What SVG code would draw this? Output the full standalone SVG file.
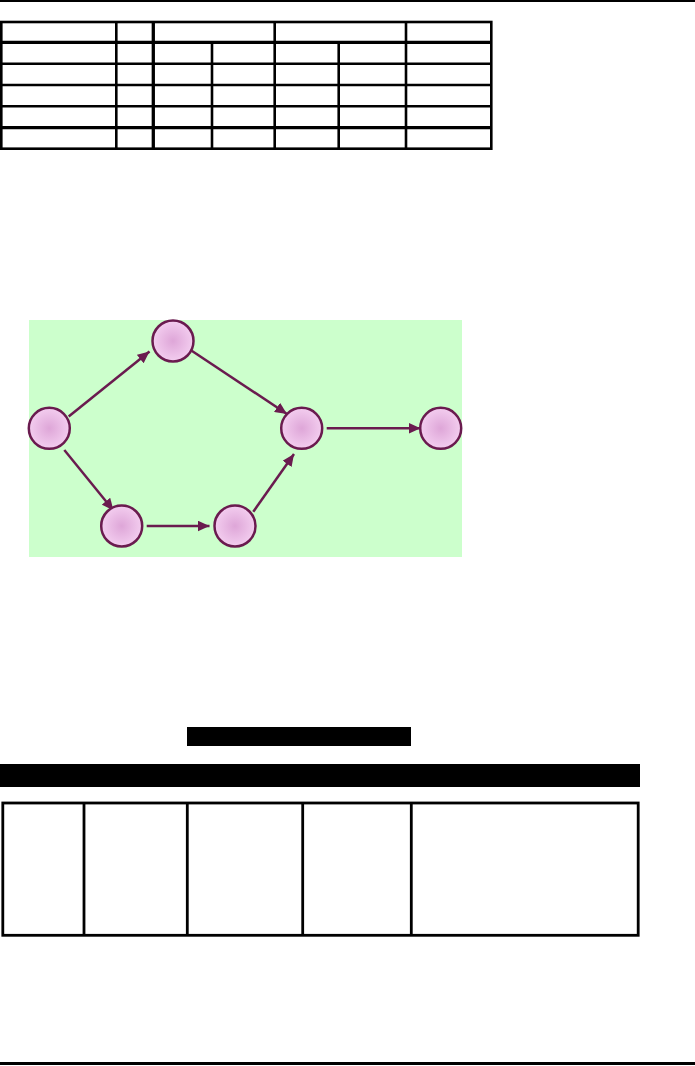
<svg xmlns="http://www.w3.org/2000/svg" width="695" height="1066" viewBox="0 0 695 1066">
<style>
.tl{stroke:#000;stroke-width:2.6;fill:none}
.tk{stroke:#000;stroke-width:3.3;fill:none}
.bt{stroke:#000;stroke-width:2.8;fill:none}
.node{fill:url(#ng);stroke:#6A1B4F;stroke-width:2.5}
.edge{stroke:#6A1B4F;stroke-width:2.5;fill:none;marker-end:url(#ah)}
</style>
<defs>
<radialGradient id="ng" cx="0.5" cy="0.5" r="0.5">
<stop offset="0" stop-color="#DEA6D8"/>
<stop offset="1" stop-color="#F3CDEF"/>
</radialGradient>
<marker id="ah" markerUnits="userSpaceOnUse" markerWidth="13" markerHeight="11" refX="12" refY="5.5" orient="auto">
<path d="M0,0 L12,5.5 L0,11 Z" fill="#6A1B4F"/>
</marker>
</defs>
<rect width="695" height="1066" fill="#fff"/>
<line x1="0" y1="1" x2="695" y2="1" stroke="#000" stroke-width="2"/>
<g id="top-table">
<rect class="tl" x="1.3" y="22" width="490" height="126.7"/>
<line class="tk" x1="0" y1="42.3" x2="492" y2="42.3"/>
<line class="tl" x1="0" y1="63.7" x2="492" y2="63.7"/>
<line class="tl" x1="0" y1="85" x2="492" y2="85"/>
<line class="tl" x1="0" y1="106.2" x2="492" y2="106.2"/>
<line class="tk" x1="0" y1="127.7" x2="492" y2="127.7"/>
<line class="tl" x1="116.3" y1="22" x2="116.3" y2="148.7"/>
<line class="tk" x1="153.3" y1="22" x2="153.3" y2="148.7"/>
<line class="tl" x1="274.7" y1="22" x2="274.7" y2="148.7"/>
<line class="tl" x1="406" y1="22" x2="406" y2="148.7"/>
<line class="tl" x1="212" y1="42.3" x2="212" y2="148.7"/>
<line class="tl" x1="338.7" y1="42.3" x2="338.7" y2="148.7"/>
</g>
<rect id="graph-bg" x="29" y="320" width="433" height="237" fill="#CCFFCC"/>
<g id="connectors">
<line class="edge" x1="68.7" y1="416.5" x2="149.5" y2="351.5"/>
<line class="edge" x1="191.7" y1="350.7" x2="287" y2="414"/>
<line class="edge" x1="326.7" y1="428.3" x2="420.5" y2="428.3"/>
<line class="edge" x1="64.3" y1="450" x2="113.5" y2="510.5"/>
<line class="edge" x1="146.7" y1="526" x2="209.5" y2="526"/>
<line class="edge" x1="253.3" y1="511.7" x2="294" y2="454"/>
</g>
<g id="n1"><circle class="node" cx="173" cy="341" r="20.5"/></g>
<g id="n2"><circle class="node" cx="49.3" cy="428.3" r="20.5"/></g>
<g id="n3"><circle class="node" cx="301.7" cy="428.3" r="20.5"/></g>
<g id="n4"><circle class="node" cx="440.7" cy="428.3" r="20.5"/></g>
<g id="n5"><circle class="node" cx="121.7" cy="526" r="20.5"/></g>
<g id="n6"><circle class="node" cx="235" cy="526" r="20.5"/></g>
<rect id="bar1" x="187" y="727" width="224" height="19" fill="#000"/>
<rect id="bar2" x="0" y="764" width="640" height="23" fill="#000"/>
<g id="bottom-table">
<rect class="bt" x="2.8" y="803" width="635.4" height="132.3"/>
<line class="bt" x1="84" y1="803" x2="84" y2="935.3"/>
<line class="bt" x1="187.3" y1="803" x2="187.3" y2="935.3"/>
<line class="bt" x1="302.7" y1="803" x2="302.7" y2="935.3"/>
<line class="bt" x1="411.3" y1="803" x2="411.3" y2="935.3"/>
</g>
<line x1="0" y1="1063.5" x2="695" y2="1063.5" stroke="#000" stroke-width="3"/>
</svg>
